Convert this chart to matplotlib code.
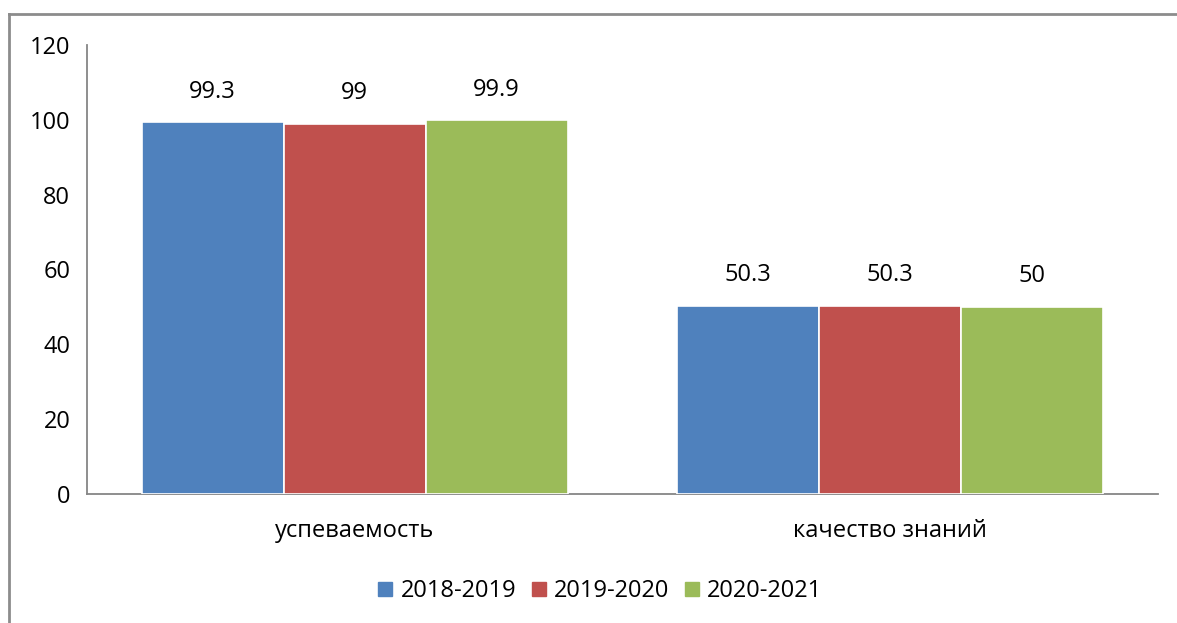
import matplotlib
matplotlib.use("Agg")
import matplotlib.pyplot as plt
from matplotlib.lines import Line2D
import numpy as np

categories = ["успеваемость", "качество знаний"]
series_names = ["2018-2019", "2019-2020", "2020-2021"]
values_2018 = [99.3, 50.3]
values_2019 = [99, 50.3]
values_2020 = [99.9, 50]
colors = ["#4F81BD", "#C0504D", "#9BBB59"]
y_ticks = [0, 20, 40, 60, 80, 100, 120]

plt.rcParams['font.family'] = ['Open Sans', 'DejaVu Sans']
FS = 17

fig = plt.figure(figsize=(11.77, 6.23), dpi=100)
ax = fig.add_axes([87/1177, (623-494)/623, (1157.5-87)/1177, (494-45)/623])

x = np.arange(len(categories))
w = 0.2654
series = [values_2018, values_2019, values_2020]
for i, (vals, name, c) in enumerate(zip(series, series_names, colors)):
    pos = x + (i - 1) * w
    bars = ax.bar(pos, vals, width=w, color=c, edgecolor="white", linewidth=1.2,
                  label=name, zorder=3)
    for b, v in zip(bars, vals):
        ax.annotate(f"{v:g}", (b.get_x() + b.get_width()/2, v),
                    xytext=(0, 22), textcoords="offset points",
                    ha="center", va="center", fontsize=FS, color="black")

ax.set_xlim(-0.5, 1.5)
ax.set_ylim(0, 120)
ax.set_yticks(y_ticks)
ax.set_xticks(x)
ax.set_xticklabels(categories)
ax.tick_params(axis='y', length=0, pad=12, labelsize=FS)
ax.tick_params(axis='x', length=0, pad=18, labelsize=FS)
for s in ["top", "right"]:
    ax.spines[s].set_visible(False)
for s in ["left", "bottom"]:
    ax.spines[s].set_color("#868686")
    ax.spines[s].set_linewidth(1.3)

handles = [Line2D([0], [0], marker='s', linestyle='none', markersize=10,
                  markerfacecolor=c, markeredgecolor=c) for c in colors]
fig.legend(handles, series_names, loc="center", bbox_to_anchor=(598/1177, 1 - 591/623),
           ncol=3, frameon=False, fontsize=FS, handletextpad=0.15, columnspacing=0.45,
           handlelength=1.0)

# outer chart border (left and top visible)
fig.add_artist(Line2D([9/1177, 9/1177], [0, 1 - 14/623], transform=fig.transFigure,
                      color="#8C8C8C", linewidth=2))
fig.add_artist(Line2D([9/1177, 1], [1 - 14/623, 1 - 14/623], transform=fig.transFigure,
                      color="#8C8C8C", linewidth=2))

fig.savefig("out.png", dpi=100, facecolor="white")
